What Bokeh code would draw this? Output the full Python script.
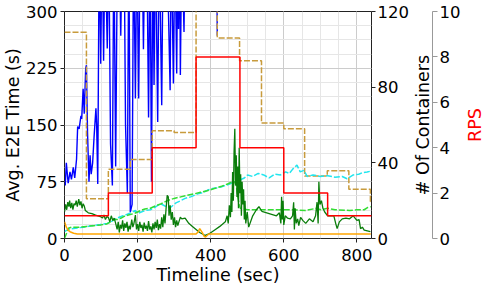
import math
from bokeh.plotting import figure
from bokeh.layouts import row
from bokeh.models import Range1d, LinearAxis, FixedTicker, SingleIntervalTicker
from bokeh.embed import file_html
from bokeh.resources import INLINE

# ---- data ----
rps_t = [0, 120, 240, 360, 480, 600, 720, 840]
rps_v = [1, 2, 4, 8, 4, 2, 1, 1]

cont_t = [0, 60, 120, 180, 240, 300, 360, 418, 479, 539, 600, 657, 719, 778, 837, 840]
cont_v = [109, 21, 36.6, 41.8, 57, 56, 130, 106, 94, 61, 58, 33, 35.8, 26, 19.6, 19.6]

blue_t = [2, 5, 10, 15, 19, 24, 28, 33, 36, 40, 45, 47, 51, 54, 58, 60, 63, 67, 70, 73,
          77, 81, 86, 88, 91, 95, 99, 103, 107, 111, 117, 121, 126, 131, 135, 140, 145,
          150, 154, 158, 163, 167, 172, 176, 180, 185, 189, 194, 198, 203, 207, 212, 216,
          220, 225, 230, 234, 238, 242, 245, 249, 255, 259, 266, 270, 280, 289, 292, 298,
          302, 307, 310, 312, 315, 317, 321, 327, 330, 416, 418]
blue_v = [70, 100, 73, 88, 78, 94, 80, 105, 148, 145, 162, 158, 198, 165, 225, 229, 140,
          75, 110, 85, 100, 135, 172, 150, 72, 400, 231, 400, 235, 400, 251, 400, 125, 70,
          400, 95, 400, 400, 268, 400, 400, 150, 60, 400, 35, 45, 400, 185, 400, 185, 400,
          400, 250, 400, 400, 160, 400, 75, 400, 203, 400, 154, 400, 176, 400, 400, 196,
          400, 205, 400, 218, 400, 277, 400, 216, 400, 273, 400, 400, 268]

green_t = [0, 3, 6, 9, 12, 14, 17, 20, 23, 26, 29, 32, 35, 39, 42, 45, 48, 51, 54, 57, 65,
           75, 85, 98, 104, 108, 112, 116, 120, 124, 128, 132, 136, 140, 144, 147, 150, 153,
           156, 159, 162, 165, 168, 171, 174, 177, 180, 184, 187, 190, 194, 197, 200, 203,
           206, 209, 212, 215, 218, 221, 224, 227, 230, 233, 236, 239, 242, 245, 248, 251,
           254, 257, 260, 263, 266, 269, 272, 275, 278, 281, 284, 286, 289, 292, 295, 298,
           301, 304, 307, 310, 313, 317, 321, 330, 340, 350, 360, 370, 385, 395, 410, 425,
           440, 445, 448, 451, 454, 456, 458, 460, 462, 464, 466, 468, 470, 472, 474, 476,
           478, 480, 482, 484, 486, 488, 490, 492, 494, 496, 500, 504, 515, 525, 532, 540,
           560, 580, 588, 592, 594, 596, 598, 600, 604, 610, 618, 624, 627, 629, 631, 634,
           638, 641, 646, 652, 660, 670, 680, 687, 691, 694, 696, 699, 703, 707, 712, 720,
           737, 742, 746, 752, 760, 770, 780, 790, 800, 806, 810, 815, 820, 837]
green_v = [35, 45, 38, 48, 42, 50, 40, 47, 38, 46, 44, 50, 42, 52, 44, 49, 40, 46, 43, 37,
           34, 33, 31, 29, 27, 31, 25, 29, 28, 22, 30, 24, 27, 20, 12, 22, 8, 18, 13, 24,
           10, 20, 14, 22, 9, 17, 12, 25, 15, 20, 31, 12, 19, 10, 22, 14, 18, 9, 21, 13,
           17, 10, 23, 12, 16, 8, 20, 12, 22, 14, 25, 11, 19, 13, 28, 15, 32, 20, 40, 57,
           55, 30, 44, 25, 35, 18, 28, 15, 24, 17, 22, 28, 26, 27, 20, 16, 12, 8, 4, 6,
           11, 16, 22, 30, 20, 44, 28, 60, 35, 88, 50, 115, 145, 70, 110, 55, 95, 40, 120,
           60, 85, 30, 75, 45, 65, 25, 50, 20, 35, 15, 30, 38, 42, 36, 33, 30, 34, 20, 55,
           25, 50, 18, 30, 27, 26, 30, 48, 12, 40, 20, 26, 17, 28, 24, 20, 26, 22, 30, 48,
           20, 75, 45, 50, 40, 35, 30, 30, 20, 13, 22, 26, 27, 26, 30, 24, 25, 13, 15, 11, 9]

lime_t = [0, 4, 8, 12, 20, 40, 60, 80, 100, 115, 126, 135, 144, 155, 162, 175, 190, 200,
          208, 220, 235, 253, 265, 281, 300, 318, 336, 355, 372, 390, 410, 430, 446, 455,
          465, 470, 474, 478, 481, 500, 540, 580, 620, 660, 690, 700, 720, 740, 780, 800,
          820, 830, 838]
lime_v = [0, 5, 10, 14, 15, 15, 16, 17, 18, 19, 22, 25, 25, 27, 29, 31, 33, 35, 37, 39,
          40, 44, 46, 50, 53, 55, 57, 59, 61, 63, 66, 69, 72, 74, 75, 70, 55, 45, 40, 38,
          38, 38, 38, 37, 40, 38, 40, 38, 37, 38, 38, 41, 42]

cyan_t = [0, 10, 20, 35, 53, 75, 98, 117, 130, 144, 160, 172, 185, 194, 200, 210, 222, 235,
          250, 263, 275, 290, 305, 318, 330, 345, 355, 365, 380, 392, 405, 418, 428, 440,
          452, 465, 475, 483, 492, 501, 515, 530, 545, 560, 575, 591, 605, 615, 625, 636,
          645, 655, 664, 680, 700, 720, 740, 760, 773, 790, 805, 815, 828, 838]
cyan_v = [9, 12, 13, 14, 15, 17, 18.5, 20, 23, 27, 30, 32, 35, 37, 33, 35, 37, 38, 42, 46,
          43, 41, 47, 50, 53, 55, 57, 59, 61, 64, 66, 67, 68, 70, 72, 75, 73, 78, 80, 84,
          82, 86, 84, 80, 85, 84, 88, 86, 92, 97, 88, 90, 82, 84, 82, 83, 81, 82, 79, 84,
          85, 87, 88, 89]

orange_t = [0, 5, 10, 15, 25, 35, 100, 200, 300, 360, 366, 370, 374, 378, 382, 386, 390,
            395, 500, 600, 700, 800, 838]
orange_v = [22, 15, 11, 9, 7, 6, 6, 6, 6, 6, 9, 13, 10, 7, 3, 2, 4, 6, 6, 6, 6, 6, 6]

x_ticks_interval = 200
y_ticks_interval = 75
cont_ticks = [0, 40, 80, 120]
rps_ticks = [0, 2, 4, 6, 8, 10]

FONT = "DejaVu Sans"
TICK_FS = "16.5px"
LAB_FS = "17.5px"
FW, FH = 307, 227
TOP = 11

# ---------------- main plot ----------------
p = figure(frame_width=FW, frame_height=FH, x_range=Range1d(0, 840), y_range=Range1d(0, 300),
           output_backend="svg", toolbar_location=None,
           min_border_left=56, min_border_right=40, min_border_top=TOP, min_border_bottom=0)
p.extra_y_ranges = {"cont": Range1d(0, 120), "rps": Range1d(0, 10)}

p.background_fill_color = "white"
p.outline_line_color = "#222222"
p.outline_line_width = 1

p.xaxis.ticker = SingleIntervalTicker(interval=x_ticks_interval, num_minor_ticks=4)
p.yaxis.ticker = SingleIntervalTicker(interval=y_ticks_interval, num_minor_ticks=4)
p.xgrid.grid_line_color = "#cccccc"
p.ygrid.grid_line_color = "#cccccc"
p.xgrid.minor_grid_line_color = "#e6e6e6"
p.ygrid.minor_grid_line_color = "#e6e6e6"

for ax in (p.xaxis[0], p.yaxis[0]):
    ax.major_label_text_font = FONT
    ax.major_label_text_font_size = TICK_FS
    ax.major_label_text_color = "black"
    ax.axis_label_text_font = FONT
    ax.axis_label_text_font_size = LAB_FS
    ax.axis_label_text_font_style = "normal"
    ax.axis_label_text_color = "black"
    ax.axis_line_color = None
    ax.major_tick_line_color = "#222222"
    ax.major_tick_out = 4
    ax.major_tick_in = 0
    ax.minor_tick_line_color = None
    ax.major_label_standoff = 3

p.xaxis.axis_label = "Timeline (sec)"
p.yaxis.axis_label = "Avg. E2E Time (s)"
p.xaxis.major_label_standoff = 6
p.xaxis.axis_label_standoff = 1
p.yaxis.axis_label_standoff = 0

ax_c = LinearAxis(y_range_name="cont", ticker=FixedTicker(ticks=cont_ticks))
ax_c.major_label_text_font = FONT
ax_c.major_label_text_font_size = TICK_FS
ax_c.major_label_text_color = "black"
ax_c.minor_tick_line_color = None
ax_c.major_tick_out = 4
ax_c.major_tick_in = 0
ax_c.major_label_standoff = 2
ax_c.axis_line_color = None
ax_c.major_tick_line_color = "#222222"
p.add_layout(ax_c, "right")

dash = "6 2"
p.line(blue_t, blue_v, color="#0000ff", line_width=1.4)
p.step(cont_t, cont_v, mode="after", y_range_name="cont", color="#c89b3c",
       line_width=1.5, line_dash=dash)
p.line(cyan_t, cyan_v, color="#22e5ee", line_width=1.5, line_dash=dash)
p.line(lime_t, lime_v, color="#33dd33", line_width=1.5, line_dash=dash)
p.line(green_t, green_v, color="#0a7d0a", line_width=1.3)
p.line(orange_t, orange_v, color="#ffa500", line_width=1.5)
p.step(rps_t, rps_v, mode="after", y_range_name="rps", color="#ff0000", line_width=1.5)

# -------- strip with the "# Of Containers" label and the RPS axis --------
q = figure(frame_width=21, frame_height=FH, x_range=Range1d(0, 1), y_range=Range1d(0, 10),
           output_backend="svg", toolbar_location=None,
           x_axis_location=None, y_axis_location="right",
           min_border_left=0, min_border_right=27, min_border_top=TOP, min_border_bottom=14)
q.outline_line_color = None
q.grid.visible = False
q.yaxis.ticker = FixedTicker(ticks=rps_ticks)
q.yaxis.major_label_text_font = FONT
q.yaxis.major_label_text_font_size = TICK_FS
q.yaxis.major_label_text_color = "black"
q.yaxis.minor_tick_line_color = None
q.yaxis.major_tick_out = 5
q.yaxis.major_tick_in = 0
q.yaxis.major_label_standoff = 2
q.yaxis.axis_line_color = "#999999"
q.yaxis.major_tick_line_color = "#999999"
q.text(x=[0.55], y=[5], text=["# Of Containers"], angle=math.pi / 2,
       text_align="center", text_baseline="middle",
       text_font={"value": FONT}, text_font_size={"value": LAB_FS}, text_color="black")

# -------- strip with the red "RPS" label --------
r = figure(frame_width=27, frame_height=FH, x_range=Range1d(0, 27), y_range=Range1d(0, 10),
           output_backend="svg", toolbar_location=None,
           x_axis_location=None, y_axis_location=None,
           min_border_left=0, min_border_right=0, min_border_top=TOP, min_border_bottom=14)
r.outline_line_color = None
r.grid.visible = False
r.text(x=[11], y=[5], text=["RPS"], angle=math.pi / 2,
       text_align="center", text_baseline="middle",
       text_font={"value": FONT}, text_font_size={"value": LAB_FS}, text_color="red")

layout = row(p, q, r, spacing=0)
open("out.html", "w").write(file_html(layout, INLINE))
